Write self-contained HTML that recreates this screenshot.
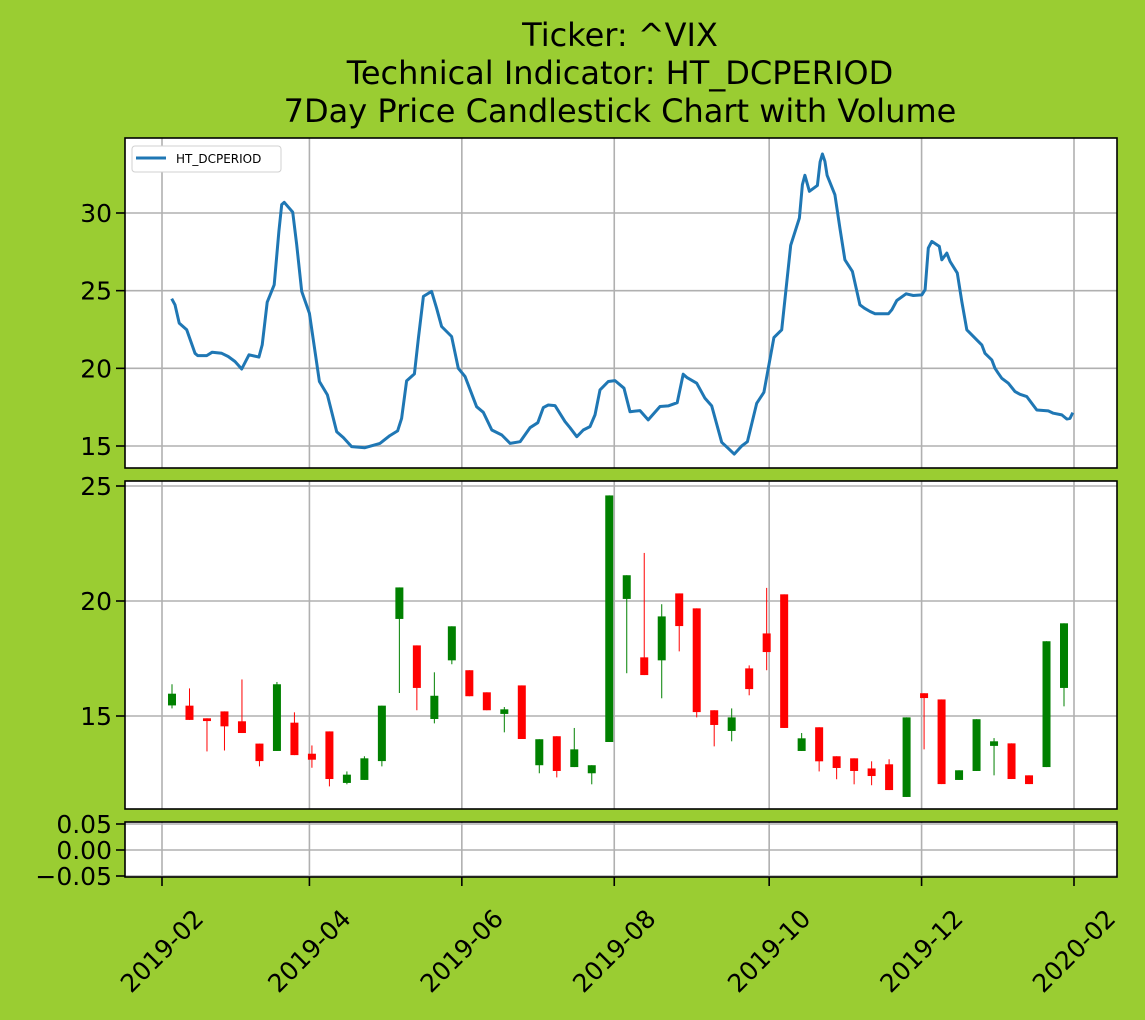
<!DOCTYPE html>
<html><head><meta charset="utf-8"><style>
html,body{margin:0;padding:0;background:#9acd32;}
svg{display:block;font-family:"DejaVu Sans","Liberation Sans",sans-serif;}
</style></head><body>
<svg id="chart" width="1145" height="1020" viewBox="0 0 1145 1020" xmlns="http://www.w3.org/2000/svg">
<rect x="0" y="0" width="1145" height="1020" fill="#9acd32"/>
<text x="620" y="46" font-size="32" text-anchor="middle">Ticker: ^VIX</text>
<text x="620" y="84" font-size="32" text-anchor="middle">Technical Indicator: HT_DCPERIOD</text>
<text x="620" y="122" font-size="32" text-anchor="middle">7Day Price Candlestick Chart with Volume</text>
<g id="g"></g>
</svg>
<script>
// Line data: day offset from 2019-02-01 and HT_DCPERIOD value
const lineDays=[3.9,5.2,6.9,9.9,13.2,14.3,17.9,20.1,23.9,26.5,29.2,31.9,34.8,38.8,40.1,42.1,44.9,46.8,47.9,48.9,52.3,53.9,55.9,59.0,63.0,66.2,69.9,72.6,75.9,81.2,87.2,91.2,94.3,95.9,97.9,101.0,102.6,104.6,107.9,109.9,111.9,115.9,118.6,121.3,125.9,128.6,132.0,136.0,139.3,143.3,147.3,150.4,152.6,154.6,157.3,161.3,163.3,166.0,168.6,171.3,173.3,175.3,178.6,181.3,184.9,187.3,191.3,194.6,199.3,202.6,206.2,208.6,210.2,214.0,217.3,220.0,224.0,226.6,229.0,232.0,234.3,238.0,240.9,244.9,248.0,251.6,255.1,256.3,257.3,259.1,262.3,263.4,264.3,265.3,266.2,269.3,271.3,273.3,276.3,279.3,281.1,283.4,285.4,290.7,292.1,294.1,297.8,300.7,304.1,305.4,306.7,308.1,311.1,312.1,314.1,315.4,318.3,320.1,322.1,326.1,328.1,329.4,332.1,333.4,334.7,336.1,338.7,341.4,343.4,346.1,350.1,354.7,356.7,360.1,362.1,363.4,364.5];
const lineVals=[24.48,24.09,22.91,22.48,20.97,20.82,20.82,21.04,20.97,20.76,20.44,19.96,20.87,20.72,21.51,24.26,25.38,28.82,30.54,30.69,30.06,27.96,24.95,23.55,19.15,18.29,15.92,15.54,14.96,14.89,15.17,15.67,15.97,16.78,19.19,19.64,21.94,24.63,24.95,23.87,22.69,22.05,20.0,19.47,17.53,17.17,16.03,15.71,15.17,15.28,16.18,16.5,17.47,17.64,17.6,16.57,16.18,15.6,16.03,16.25,17.0,18.61,19.15,19.21,18.72,17.21,17.28,16.68,17.54,17.58,17.79,19.62,19.4,19.04,18.07,17.58,15.24,14.85,14.48,15.0,15.28,17.75,18.46,21.98,22.48,27.92,29.68,31.83,32.43,31.4,31.78,33.29,33.8,33.33,32.43,31.18,29.03,26.99,26.24,24.09,23.87,23.66,23.51,23.51,23.77,24.37,24.8,24.69,24.73,25.06,27.74,28.17,27.85,26.99,27.42,26.88,26.13,24.3,22.48,21.83,21.51,20.97,20.54,20.0,19.68,19.36,19.04,18.5,18.33,18.18,17.32,17.26,17.11,17.0,16.74,16.78,17.15];
// Weekly candles (week index -> day = 4 + 7*w)
const candleOpen=[15.46,15.45,14.9,15.2,14.77,13.8,13.48,14.71,13.36,14.33,12.09,12.22,13.04,19.22,18.07,14.87,17.42,16.99,16.03,15.09,16.33,12.86,14.12,12.78,12.51,13.87,20.09,17.55,17.42,20.33,19.68,15.25,14.35,17.07,18.59,20.29,13.48,14.51,13.25,13.16,12.72,12.9,11.48,15.99,15.72,12.22,12.61,13.7,13.81,12.42,12.78,16.22];
const candleClose=[15.97,14.83,14.78,14.55,14.26,13.04,16.38,13.3,13.1,12.26,12.45,13.16,15.45,20.59,16.22,15.88,18.9,15.86,15.25,15.29,14.0,13.99,12.61,13.55,12.86,24.59,21.12,16.78,19.33,18.91,15.17,14.61,14.94,16.17,17.78,14.48,14.03,13.03,12.74,12.61,12.39,11.78,14.94,15.78,12.04,12.64,14.86,13.9,12.26,12.04,18.25,19.03];
const candleHigh=[16.38,16.2,14.9,15.2,16.59,13.8,16.48,15.16,13.72,14.33,12.59,13.25,15.45,20.59,18.07,16.9,18.9,16.99,16.03,15.39,16.33,13.99,14.12,14.48,12.86,24.59,21.12,22.09,19.86,20.33,19.68,15.25,15.33,17.2,20.57,20.29,14.26,14.51,13.25,13.16,13.03,13.12,14.94,15.99,15.72,12.64,14.86,14.04,13.81,12.42,18.25,19.03];
const candleLow=[15.33,14.83,13.46,13.5,14.26,12.81,13.48,13.3,12.75,11.94,12.03,12.22,12.81,16.0,15.25,14.68,17.25,15.86,15.25,14.29,14.0,12.51,12.33,12.78,12.03,13.87,16.86,16.78,15.77,17.81,14.94,13.68,13.9,15.9,16.99,14.48,13.48,12.59,12.25,12.03,11.99,11.78,11.48,13.55,12.04,12.22,12.61,12.42,12.26,12.04,12.78,15.42];
const topTicks=[15,20,25,30];
const midTicks=[15,20,25];
const botTicks=[0.05,0,-0.05];
const botTickLabels=["0.05","0.00","\u22120.05"];
const xTickDays=[0,59,120,181,243,304,365];
const xTickLabels=["2019-02","2019-04","2019-06","2019-08","2019-10","2019-12","2020-02"];

const NS="http://www.w3.org/2000/svg";
const G=document.getElementById('g');
function mk(tag,attrs,parent){const e=document.createElementNS(NS,tag);for(const k in attrs)e.setAttribute(k,attrs[k]);(parent||G).appendChild(e);return e;}
const L=125,R=1117;
const xS=d=>162+(d)*(1074-162)/365;
const yTop=v=>446-(v-15)*(446-213)/15;
const yMid=v=>716-(v-15)*23;
const yBot=v=>850-v*520;
const panels=[[138,468,'top-panel'],[481,809,'candle-panel'],[822,877,'bottom-panel']];
panels.forEach(p=>{
  const r=mk('rect',{x:L,y:p[0],width:R-L,height:p[1]-p[0],fill:'#fff'});
  
  
  xTickDays.forEach(d=>{const l=mk('line',{x1:xS(d),x2:xS(d),y1:p[0],y2:p[1],stroke:'#b0b0b0','stroke-width':1.6});
    
    });
});
function yAxis(ticks,labels,sc,top,bot,name){
  ticks.forEach((t,i)=>{const y=sc(t);
    const gl=mk('line',{x1:L,x2:R,y1:y,y2:y,stroke:'#b0b0b0','stroke-width':1.6});
    
    
    mk('line',{x1:L-9,x2:L,y1:y,y2:y,stroke:'#000','stroke-width':1.6});
    const tx=mk('text',{x:L-13,y:y+9,'font-size':25,'text-anchor':'end'});
    tx.textContent=labels?labels[i]:String(t);
    
    
  });
}
yAxis(topTicks,null,yTop,138,468,'top-y');
yAxis(midTicks,null,yMid,481,809,'candle-y');
yAxis(botTicks,botTickLabels,yBot,822,877,'bottom-y');
// line
let dstr='';lineDays.forEach((d,i)=>{dstr+=(i?'L':'M')+xS(d).toFixed(1)+','+yTop(lineVals[i]).toFixed(1);});
const path=mk('path',{d:dstr,fill:'none',stroke:'#1f77b4','stroke-width':3,'stroke-linejoin':'round'});


// candles
candleOpen.forEach((o,w)=>{
  const c=candleClose[w],h=candleHigh[w],lo=candleLow[w];
  const col=c>=o?'#008000':'#ff0000';const x=xS(4+7*w);
  const wk=mk('line',{x1:x,x2:x,y1:yMid(h),y2:yMid(lo),stroke:col,'stroke-width':1});
  
  
  const top=yMid(Math.max(o,c)),bt=yMid(Math.min(o,c));
  const b=mk('rect',{x:x-4,y:top,width:8,height:Math.max(1,bt-top),fill:col});
  
  
});
// borders
panels.forEach(p=>{mk('rect',{x:L,y:p[0],width:R-L,height:p[1]-p[0],fill:'none',stroke:'#000','stroke-width':1.6});});
// x ticks
xTickDays.forEach((d,i)=>{const x=xS(d);
  mk('line',{x1:x,x2:x,y1:877,y2:886,stroke:'#000','stroke-width':1.6});
  const t=mk('text',{x:x,y:951,'font-size':25,'text-anchor':'middle','dominant-baseline':'central',transform:'rotate(-45 '+x+' 951)'});
  t.textContent=xTickLabels[i];
  
  
});
// legend
const lg=mk('rect',{x:132,y:146,width:149,height:26,rx:3,fill:'#fff',stroke:'#d0d0d0','stroke-width':1});


mk('line',{x1:136,x2:166,y1:158,y2:158,stroke:'#1f77b4','stroke-width':3});
const lt=mk('text',{x:176,y:163,'font-size':12});
lt.textContent='HT_DCPERIOD';


</script>
</body></html>
